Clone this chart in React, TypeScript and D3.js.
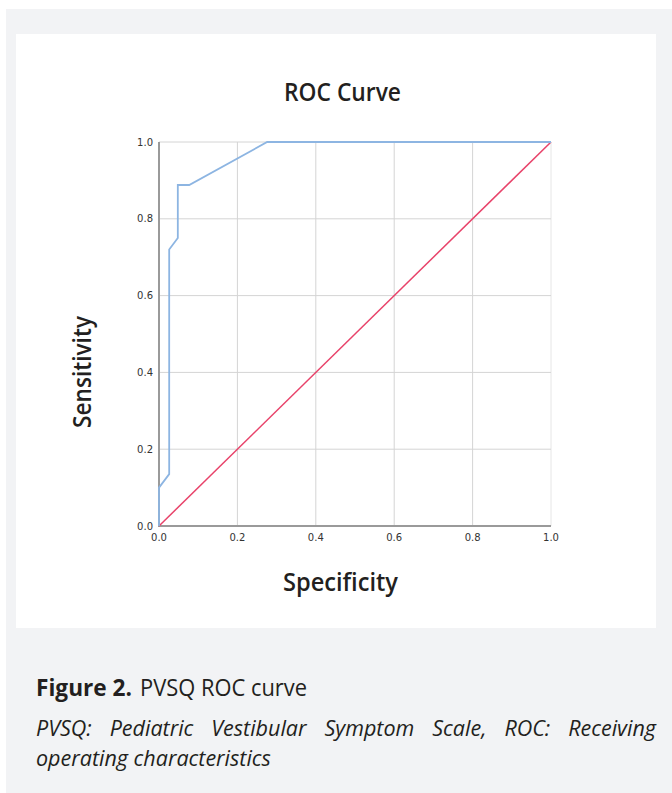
import { useEffect, useRef } from 'react'
import * as d3 from 'd3'

// ROC curve: [1 - specificity, sensitivity]
const rocX = [0, 0, 0.026, 0.026, 0.048, 0.048, 0.077, 0.276, 1]
const rocY = [0, 0.1, 0.135, 0.72, 0.75, 0.888, 0.888, 1, 1]
const refLine = [0, 1]
const ticks = [0, 0.2, 0.4, 0.6, 0.8, 1]

const captionTitleBold = 'Figure 2.'
const captionTitle = 'PVSQ ROC curve'
const captionLine1 = 'PVSQ: Pediatric Vestibular Symptom Scale, ROC: Receiving'
const captionLine2 = 'operating characteristics'

const W = 672
const H = 793

const App = () => {
  const ref = useRef(null)

  useEffect(() => {
    if (!ref.current) return
    const svg = d3.select(ref.current)
    svg.selectAll('*').remove()

    // backgrounds
    svg.append('rect').attr('x', 6).attr('y', 9).attr('width', W - 6).attr('height', H - 9).attr('fill', '#f2f3f5')
    svg.append('rect').attr('x', 16).attr('y', 34).attr('width', 640).attr('height', 594).attr('fill', '#ffffff')

    const x = d3.scaleLinear().domain([0, 1]).range([159, 551])
    const y = d3.scaleLinear().domain([0, 1]).range([526, 142])

    const g = svg.append('g')

    // grid
    g.selectAll('.vg').data(ticks.slice(1)).enter().append('line')
      .attr('x1', d => x(d)).attr('x2', d => x(d))
      .attr('y1', y(0)).attr('y2', y(1))
      .attr('stroke', d => d === 1 ? '#e6e6e6' : '#d4d4d4').attr('stroke-width', 1)
    g.selectAll('.hg').data(ticks.slice(1)).enter().append('line')
      .attr('y1', d => y(d)).attr('y2', d => y(d))
      .attr('x1', x(0)).attr('x2', x(1))
      .attr('stroke', '#d4d4d4').attr('stroke-width', 1)

    // axes lines
    g.append('line').attr('x1', x(0)).attr('x2', x(0)).attr('y1', y(0) + 1).attr('y2', y(1))
      .attr('stroke', '#9a9a9a').attr('stroke-width', 2)
    g.append('line').attr('x1', x(0)).attr('x2', x(1)).attr('y1', y(0)).attr('y2', y(0))
      .attr('stroke', '#9a9a9a').attr('stroke-width', 2)

    // tick labels
    g.selectAll('.yt').data(ticks).enter().append('text')
      .attr('x', x(0) - 6).attr('y', d => y(d)).attr('dy', '0.35em')
      .attr('text-anchor', 'end')
      .style('font-family', 'DejaVu Sans, sans-serif').style('font-size', '10px').attr('fill', '#333')
      .text(d => d.toFixed(1))
    g.selectAll('.xt').data(ticks).enter().append('text')
      .attr('x', d => x(d)).attr('y', y(0) + 15)
      .attr('text-anchor', 'middle')
      .style('font-family', 'DejaVu Sans, sans-serif').style('font-size', '10px').attr('fill', '#333')
      .text(d => d.toFixed(1))

    // reference diagonal
    g.append('line')
      .attr('x1', x(refLine[0])).attr('y1', y(refLine[0]))
      .attr('x2', x(refLine[1])).attr('y2', y(refLine[1]))
      .attr('stroke', '#e8436a').attr('stroke-width', 1.5)

    // ROC curve
    const line = d3.line<number>().x((d, i) => x(rocX[i])).y(d => y(d))
    g.append('path').datum(rocY).attr('d', line)
      .attr('fill', 'none').attr('stroke', '#8db5e2').attr('stroke-width', 1.8)

    // titles (narrow humanist look: squeeze to the widths in the picture)
    const labelFont = 'Open Sans, Noto Sans, sans-serif'
    const label = (sel, txt, len) => sel
      .style('font-family', labelFont).style('font-weight', 600).style('font-size', '25px').attr('fill', '#231f20')
      .attr('textLength', len).attr('lengthAdjust', 'spacingAndGlyphs')
      .text(txt)
    label(svg.append('text').attr('x', 284).attr('y', 101), 'ROC Curve', 117)
    label(svg.append('text').attr('x', 283).attr('y', 591), 'Specificity', 115)
    label(svg.append('text').attr('transform', 'translate(91,428) rotate(-90)'), 'Sensitivity', 112)

    // caption
    const capFont = 'Open Sans, Noto Sans, sans-serif'
    svg.append('text').attr('x', 36).attr('y', 696)
      .style('font-family', capFont).style('font-weight', 700).style('font-size', '23px').attr('fill', '#231f20')
      .attr('textLength', 96).attr('lengthAdjust', 'spacingAndGlyphs')
      .text(captionTitleBold)
    svg.append('text').attr('x', 140).attr('y', 696)
      .style('font-family', capFont).style('font-size', '23px').attr('fill', '#231f20')
      .attr('textLength', 167).attr('lengthAdjust', 'spacingAndGlyphs')
      .text(captionTitle)

    // italic note, squeezed horizontally, first line justified
    const ig = svg.append('g')
    const italic = s => s.style('font-family', capFont).style('font-style', 'italic')
      .style('font-size', '21px').attr('fill', '#231f20')
    const l2 = italic(ig.append('text').attr('x', 0).attr('y', 766)).text(captionLine2)
    const k = 235 / (l2.node() as SVGTextElement).getComputedTextLength()
    ig.attr('transform', `translate(36,0) scale(${k},1)`)

    const words = captionLine1.split(' ')
    const nodes = words.map(w => italic(ig.append('text').attr('y', 736)).text(w))
    const widths = nodes.map(n => (n.node() as SVGTextElement).getComputedTextLength())
    const gap = (620 / k - d3.sum(widths)) / (words.length - 1)
    let cx = 0
    nodes.forEach((n, i) => { n.attr('x', cx); cx += widths[i] + gap })
  }, [])

  return (
    <svg ref={ref} width={W} height={H} style={{ position: 'absolute', left: 0, top: 0 }} />
  )
}

export default App
